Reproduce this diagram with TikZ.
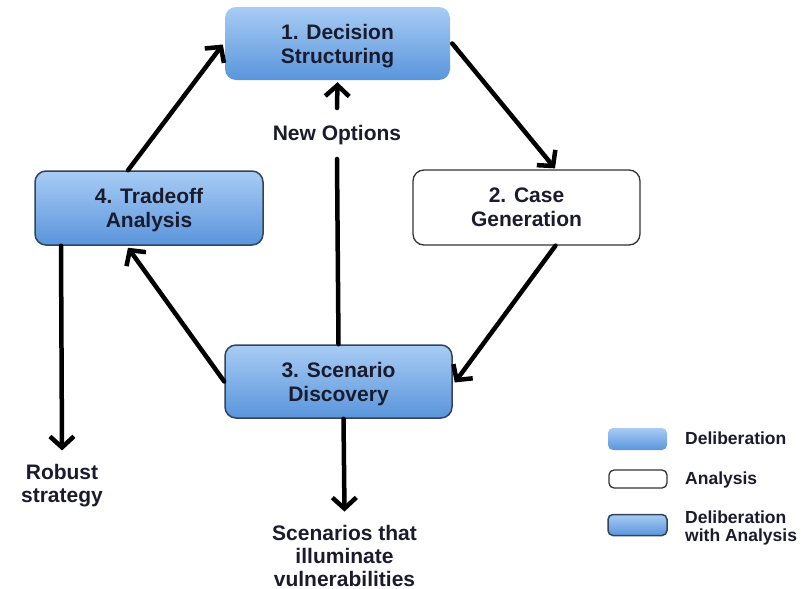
\documentclass[tikz,border=0pt]{standalone}
\usepackage{fontspec}
\setmainfont{Liberation Sans}
\usetikzlibrary{arrows.meta}
\definecolor{boxtop}{HTML}{A8CCF4}
\definecolor{boxbot}{HTML}{5A95DC}
\definecolor{ink}{HTML}{1B1B2E}
\definecolor{rim}{HTML}{33435A}
\tikzset{
  boxbase/.style={rounded corners=11pt, align=center, text=ink,
    font=\fontsize{21}{24}\selectfont\bfseries, inner sep=0pt, text depth=-2pt},
  delib/.style={boxbase, top color=boxtop, bottom color=boxbot, draw=none},
  anal/.style={boxbase, fill=white, draw=black!80, line width=1.3pt},
  dwa/.style={boxbase, top color=boxtop, bottom color=boxbot, draw=rim, line width=1.5pt},
  flow/.style={line width=4.5pt, -{Straight Barb[length=11pt,width=24pt]}, line cap=round},
  plain/.style={line width=4.5pt, line cap=round},
  lbl/.style={text=ink, align=center, font=\fontsize{21}{23}\selectfont\bfseries, inner sep=0pt},
  keytext/.style={text=ink, align=left, anchor=west, font=\fontsize{17.5}{18.5}\selectfont\bfseries, inner sep=0pt},
}
\begin{document}
\begin{tikzpicture}[x=1pt,y=-1pt]
\useasboundingbox (0,0) rectangle (801,589);

% process steps
\node[delib, minimum width=225pt, minimum height=73pt] (ds) at (337.5,43.5) {1. Decision\\Structuring};
\node[anal,  minimum width=227pt, minimum height=75pt] (cg) at (526.5,207.5) {2. Case\\Generation};
\node[dwa,   minimum width=227pt, minimum height=73pt] (sd) at (338.5,381.5) {3. Scenario\\Discovery};
\node[dwa,   minimum width=228pt, minimum height=74pt] (tr) at (149,208) {4. Tradeoff\\Analysis};

% outputs
\node[lbl] (no) at (337,135) {New Options};
\node[lbl, inner ysep=13pt] (sc) at (344.5,555.5) {Scenarios that\\illuminate\\vulnerabilities};
\node[lbl, inner ysep=14pt] (rb) at (62,486) {Robust\\strategy};

% cycle
\draw[flow] ([xshift=-21pt]tr.north) -- ([xshift=-2pt,yshift=-1pt]ds.west);
\draw[flow] ([xshift=2pt]ds.east) -- ([xshift=28.5pt,yshift=1pt]cg.north);
\draw[flow] ([xshift=29pt]cg.south) -- ([xshift=2pt,yshift=-1pt]sd.east);
\draw[flow] (sd.west) -- ([xshift=-21pt,yshift=-2pt]tr.south);

% feedback and outputs
\draw[plain] (sd.north) -- ([yshift=-14pt]no.south);
\draw[flow] ([yshift=17pt]no.north) -- ([yshift=-2pt]ds.south);
\draw[flow] ([xshift=5pt]sd.south) -- (sc.north);
\draw[flow] ([xshift=-88pt]tr.south) -- (rb.north);

% key
\node[delib, rounded corners=5pt, minimum width=59pt, minimum height=22pt] (k1) at (637.5,439) {};
\node[anal,  rounded corners=5pt, minimum width=58pt, minimum height=18pt] (k2) at (638,479) {};
\node[dwa,   rounded corners=5pt, minimum width=59pt, minimum height=21pt] (k3) at (637.5,525) {};
\node[keytext] (t1) at (685,438) {Deliberation};
\node[keytext] (t2) at (685,480) {Analysis};
\node[keytext] (t3) at (685,528) {Deliberation\\with Analysis};
\end{tikzpicture}
\end{document}
